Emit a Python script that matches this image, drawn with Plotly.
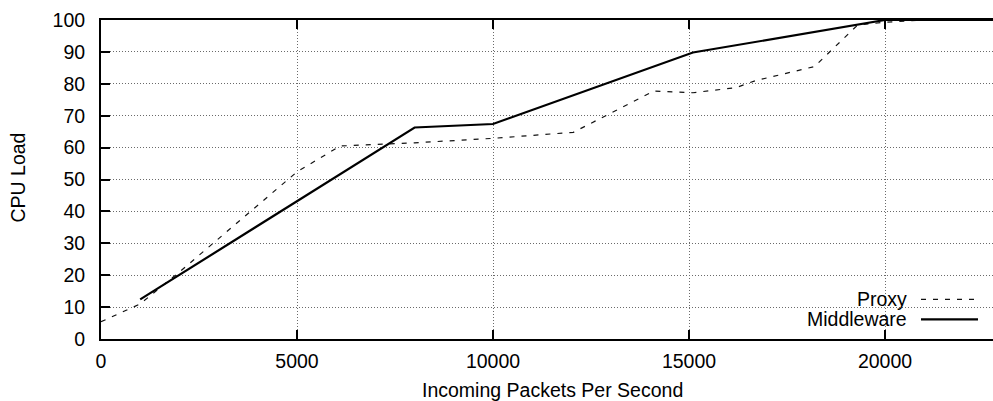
import plotly.graph_objects as go

# ---- data ----
proxy_x = [0, 1000, 2000, 3000, 4000, 5000, 6100, 8000, 10000, 12050, 14100,
           15100, 16200, 16700, 18200, 19300, 20000, 21000, 23000]
proxy_y = [5.4, 11.0, 21.0, 31.5, 42.0, 52.4, 60.5, 61.5, 62.9, 64.8, 77.7,
           77.2, 78.8, 81.0, 85.4, 98.4, 99.3, 100.0, 100.0]

mw_x = [1000, 8000, 10000, 15100, 20000, 23000]
mw_y = [12.4, 66.3, 67.4, 89.8, 100.0, 100.0]

x_ticks = [0, 5000, 10000, 15000, 20000]
y_ticks = [0, 10, 20, 30, 40, 50, 60, 70, 80, 90, 100]

series_names = ["Proxy", "Middleware"]

FONT = "Liberation Sans, Arial, Helvetica, sans-serif"
FS = 19.5
W, H = 993, 401
L, R, T, B = 101, 0, 20, 62
PW, PH = W - L - R, H - T - B

def px2dx(px):
    return (px - L) / PW

def px2dy(py):
    return (H - B - py) / PH

fig = go.Figure()
fig.add_trace(go.Scatter(x=proxy_x, y=proxy_y, mode="lines", name=series_names[0],
                         line=dict(color="#111", width=1.2, dash="5px,7px"),
                         showlegend=False))
fig.add_trace(go.Scatter(x=mw_x, y=mw_y, mode="lines", name=series_names[1],
                         line=dict(color="black", width=2.2),
                         showlegend=False))

grid = dict(showgrid=True, gridcolor="#6a6a6a", gridwidth=1, griddash="1px,2px")

fig.update_xaxes(range=[0, 22755], tickvals=x_ticks, ticktext=[str(v) for v in x_ticks],
                 ticks="inside", ticklen=9, tickwidth=1.5, tickcolor="black",
                 showline=True, linecolor="black", linewidth=2, mirror="ticks",
                 zeroline=False, ticklabelstandoff=4, automargin=False,
                 tickfont=dict(family=FONT, size=FS, color="black"), **grid)
fig.update_yaxes(range=[0, 100], tickvals=y_ticks, ticktext=[str(v) for v in y_ticks],
                 ticks="inside", ticklen=9, tickwidth=1.5, tickcolor="black",
                 showline=True, linecolor="black", linewidth=2, mirror=False,
                 zeroline=False, ticklabelstandoff=10, automargin=False,
                 tickfont=dict(family=FONT, size=FS, color="black"), **grid)

shapes = [
    dict(type="rect", xref="x domain", yref="y domain", layer="below",
         x0=px2dx(785), x1=1.0, y0=px2dy(337), y1=px2dy(289),
         fillcolor="white", line=dict(width=0)),
    dict(type="line", xref="x domain", yref="y domain", layer="above",
         x0=px2dx(921), x1=px2dx(978), y0=px2dy(299.3), y1=px2dy(299.3),
         line=dict(color="#111", width=1.2, dash="5px,7px")),
    dict(type="line", xref="x domain", yref="y domain", layer="above",
         x0=px2dx(921), x1=px2dx(978), y0=px2dy(319.3), y1=px2dy(319.3),
         line=dict(color="black", width=2.2)),
]

annotations = [
    dict(text=series_names[0], xref="x domain", yref="y domain", x=px2dx(909), y=px2dy(299.3),
         xanchor="right", yanchor="middle", showarrow=False,
         font=dict(family=FONT, size=FS, color="black")),
    dict(text=series_names[1], xref="x domain", yref="y domain", x=px2dx(909), y=px2dy(319.3),
         xanchor="right", yanchor="middle", showarrow=False,
         font=dict(family=FONT, size=FS, color="black")),
    dict(text="Incoming Packets Per Second", xref="paper", yref="paper",
         x=px2dx(552), y=px2dy(390), xanchor="center", yanchor="middle", showarrow=False,
         font=dict(family=FONT, size=FS, color="black")),
    dict(text="CPU Load", xref="paper", yref="paper", textangle=-90,
         x=px2dx(17.5), y=px2dy(178), xanchor="center", yanchor="middle", showarrow=False,
         font=dict(family=FONT, size=FS, color="black")),
]

fig.update_layout(width=W, height=H, margin=dict(l=L, r=R, t=T, b=B, pad=0, autoexpand=False),
                  paper_bgcolor="white", plot_bgcolor="white",
                  showlegend=False, shapes=shapes, annotations=annotations,
                  font=dict(family=FONT, size=FS, color="black"))

fig.write_html("out.html", config={"displayModeBar": False},
               post_script="document.body.style.margin='0';document.body.style.overflow='hidden';")
